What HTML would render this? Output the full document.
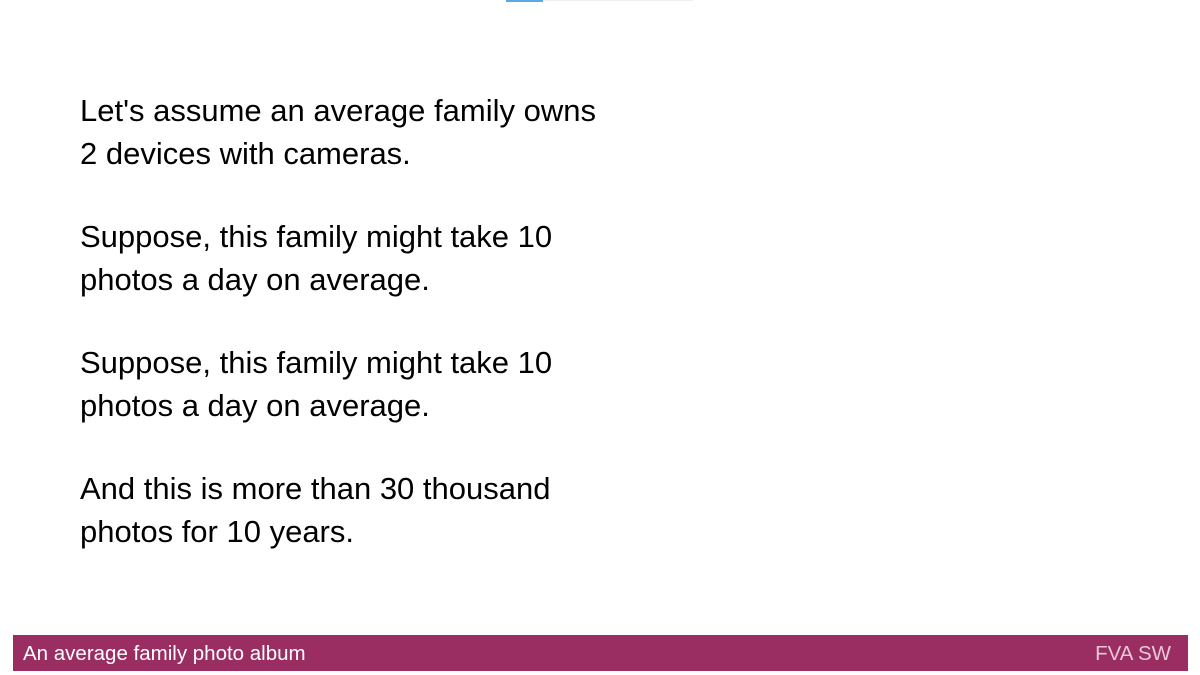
<!DOCTYPE html>
<html><head><meta charset="utf-8"><style>
body{margin:0;width:1200px;height:675px;background:#fff;position:relative;overflow:hidden;font-family:"Liberation Sans",sans-serif;}
.p{position:absolute;left:80px;font-size:31px;line-height:43px;color:#000;margin:0;white-space:nowrap}
#footer{position:absolute;left:13px;top:635px;width:1175px;height:36px;background:#9a2e62;color:#fff;font-size:20.5px;}
#footer span{position:absolute;top:7px}
</style></head><body>
<div style="position:absolute;left:506px;top:0;width:187px;height:1px;background:#eee"></div>
<div style="position:absolute;left:506px;top:0;width:37px;height:2px;background:#5aa9e6"></div>
<p class="p" style="top:89px">Let's assume an average family owns<br>2 devices with cameras.</p>
<p class="p" style="top:215px">Suppose, this family might take 10<br>photos a day on average.</p>
<p class="p" style="top:341px">Suppose, this family might take 10<br>photos a day on average.</p>
<p class="p" style="top:467px">And this is more than 30 thousand<br>photos for 10 years.</p>
<div id="footer">
<span style="left:10px">An average family photo album</span>
<span style="right:17px;color:#e8c8d8">FVA SW</span>
</div>
</body></html>
